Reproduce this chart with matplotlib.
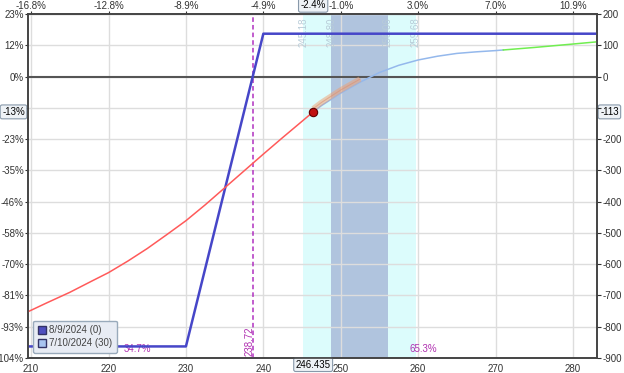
import numpy as np
import matplotlib.pyplot as plt

plt.rcParams['font.family'] = ['Liberation Sans', 'DejaVu Sans']

# expiration payoff (8/9/2024)
exp_price = [209.6, 230, 240, 283.1]
exp_pnl = [-863, -863, 137, 137]

# T+30 curve (7/10/2024)
t0_price = [209.6, 212, 215, 218, 220, 222.5, 225, 227.5, 230, 232.5, 235,
            237.5, 240, 242.5, 245, 246.435, 247.5, 250, 252.5, 255, 257.5,
            260, 262.5, 265, 267.5, 270, 271, 275, 280, 283.1]
t0_pnl = [-752, -724, -690, -652, -627, -590, -550, -506, -461, -410, -356,
          -302, -248, -195, -143, -113, -93, -53, -18, 13, 36,
          53, 65, 74, 79, 83, 85, 93, 104, 111]

current_price = 246.435
current_pnl = -113
green_from = 271
breakeven = 238.72
max_risk = 863
outer_band = (245.18, 259.68)
inner_band = (248.80, 256.06)

x_ticks = [210, 220, 230, 240, 250, 260, 270, 280]
top_labels = ['-16.8%', '-12.8%', '-8.9%', '-4.9%', '-1.0%', '3.0%', '7.0%', '10.9%']
y_ticks = [200, 100, 0, -100, -200, -300, -400, -500, -600, -700, -800, -900]

fig = plt.figure(figsize=(6.24, 3.73), dpi=100)
ax = fig.add_axes([28 / 624, 15 / 373, 569 / 624, 344 / 373])
ax.set_xlim(209.6, 283.1)
ax.set_ylim(-900, 200)

# bands
ax.axvspan(*outer_band, color='#dcfcfc', zorder=0, lw=0)
ax.axvspan(*inner_band, color='#b0c4de', zorder=0.5, lw=0)

ax.set_xticks(x_ticks)
ax.set_yticks(y_ticks)
ax.grid(True, color='#dddddd', lw=1, zorder=1)
ax.set_axisbelow(True)
ax.axhline(0, color='#555555', lw=1.5, zorder=2)

for b in list(outer_band) + list(inner_band):
    ax.text(b, 190, f'{b:.2f}', rotation=90, ha='center', va='top',
            fontsize=7, color='#b8ccd8', zorder=3)

# breakeven
ax.axvline(breakeven, color='#b030c0', lw=1.1, ls=(0, (3, 2)), zorder=3)
ax.text(breakeven - 0.5, -895, f'{breakeven:.2f}', rotation=90, ha='center',
        va='bottom', fontsize=7, color='#b030b0', zorder=6)

# expiration line
ax.plot(exp_price, exp_pnl, color='#4646c8', lw=1.8, zorder=4)

# T+30 curve pieces
p = np.array(t0_price)
v = np.array(t0_pnl)
lo = p <= current_price
mid = (p >= current_price) & (p <= green_from)
hi = p >= green_from
ax.plot(p[lo], v[lo], color='#ff5a5a', lw=1.1, zorder=4)
ax.plot(p[mid], v[mid], color='#94b8ec', lw=1.1, zorder=4)
ax.plot(p[hi], v[hi], color='#70ee50', lw=1.1, zorder=4)

# projected move band
seg = (p >= current_price) & (p <= 252.5)
ax.plot(p[seg], v[seg] + 10, color='#f0a070', lw=4, alpha=0.5,
        solid_capstyle='butt', zorder=4)
ax.plot(p[seg], v[seg] + 10, color='#e09070', lw=0.8, alpha=0.6, zorder=4)
ax.plot(current_price, current_pnl, 'o', ms=6, color='#c01010',
        mec='#600000', mew=0.8, zorder=5)

ax.text(223.8, -872, '34.7%', fontsize=7, color='#b030b0', ha='center', va='center')
ax.text(260.6, -872, '65.3%', fontsize=7, color='#b030b0', ha='center', va='center')

# axes labels on all sides
ax.tick_params(axis='x', labelsize=7, length=0, pad=4, colors='#333333')
ax.set_xticklabels([str(t) for t in x_ticks])

right_labels = [str(t) if t != -100 else '' for t in y_ticks]
left_labels = [f'{round(t / max_risk * 100)}%' if t != -100 else '' for t in y_ticks]
ax2 = ax.twinx()
ax2.set_ylim(ax.get_ylim())
ax2.set_yticks(y_ticks)
ax2.set_yticklabels(right_labels)
ax2.tick_params(labelsize=7, length=3, colors='#333333', pad=1)
ax.set_yticks(y_ticks)
ax.set_yticklabels(left_labels)
ax.tick_params(axis='y', labelsize=7, length=2, colors='#333333', pad=1)

top = ax.secondary_xaxis('top')
top.set_xticks(x_ticks)
top.set_xticklabels(top_labels)
top.tick_params(labelsize=7, length=2, colors='#333333', pad=0.5)

for a in (ax, ax2):
    for s in a.spines.values():
        s.set_color('#444444')
        s.set_linewidth(1.2)
for s in top.spines.values():
    s.set_color('#444444')

box = dict(boxstyle='round,pad=0.2', fc='#eef2f6', ec='#8899aa', lw=0.8)
ax.text(current_price, -905, '246.435', fontsize=7, ha='center', va='top',
        bbox=box, clip_on=False, zorder=10)
ax.text(current_price, 212, '-2.4%', fontsize=7, ha='center', va='bottom',
        bbox=box, clip_on=False, zorder=10)
ax.text(209.2, current_pnl, '-13%', fontsize=7, ha='right', va='center',
        bbox=box, clip_on=False, zorder=10)
ax.text(283.5, current_pnl, '-113', fontsize=7, ha='left', va='center',
        bbox=box, clip_on=False, zorder=10)

# legend
h1 = plt.Line2D([], [], marker='s', ls='', ms=6, mfc='#5050c0', mec='#333366')
h2 = plt.Line2D([], [], marker='s', ls='', ms=6, mfc='#a8c4f0', mec='#333366')
leg = ax.legend([h1, h2], ['8/9/2024 (0)', '7/10/2024 (30)'], loc='lower left',
                fontsize=7, frameon=True, fancybox=True, handlelength=0.8,
                handletextpad=0.4, borderpad=0.5, labelspacing=0.3,
                bbox_to_anchor=(0.0, 0.0))
leg.get_frame().set_facecolor('#e8ecf4')
leg.get_frame().set_edgecolor('#99aabb')
leg.get_frame().set_alpha(1)
for t in leg.get_texts():
    t.set_color('#444444')

fig.savefig('out.png', dpi=100)
